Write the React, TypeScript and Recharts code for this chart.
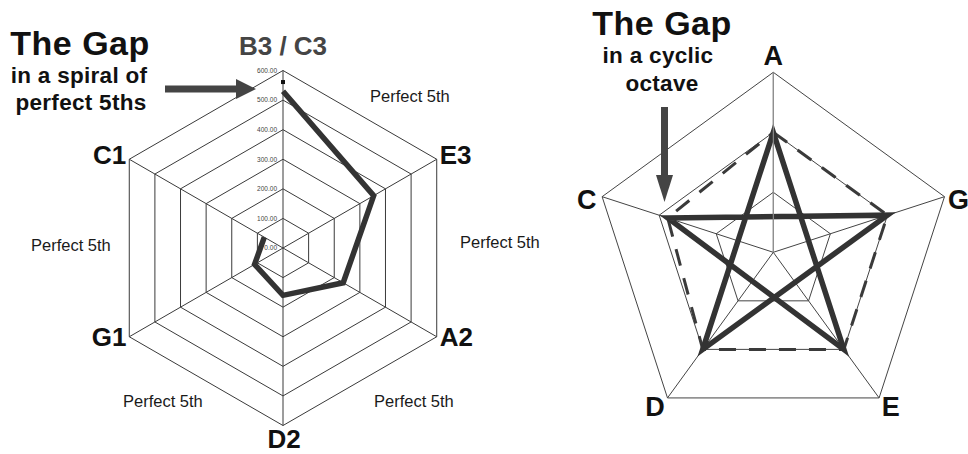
import { PolarAngleAxis, PolarGrid, PolarRadiusAxis, Radar, RadarChart } from "recharts";

// left chart: spiral of perfect fifths (clockwise from the top)
const spiralNotes = ["B3 / C3", "E3", "A2", "D2", "G1", "C1"];
const spiralValues = [530, 354, 235, 160, 111, 73];
const gapMarker = [561, 0, 0, 0, 0, 0];
const spiralTicks = [0, 100, 200, 300, 400, 500, 600];
const fifthLabels = ["Perfect 5th", "Perfect 5th", "Perfect 5th", "Perfect 5th", "Perfect 5th"];

// right chart: cyclic octave (clockwise from the top)
const cycleNotes = ["A", "G", "E", "D", "C"];
const cycleValues = [2, 2, 2, 2, 1.85];
const cycleTicks = [0, 1, 2, 3];

const spiralData = spiralNotes.map((note, i) => ({
  note,
  value: spiralValues[i],
  gap: gapMarker[i],
}));
const cycleData = cycleNotes.map((note, i) => ({ note, value: cycleValues[i] }));

const FONT = "'Liberation Sans', Arial, sans-serif";
const INK = "#333";

// label nudges, [dx, dy] from the default tick point
const spiralNudge: Record<string, [number, number]> = {
  "B3 / C3": [0, -17],
  E3: [-4, 0],
  A2: [-4, -4],
  D2: [1, 5],
  G1: [4, -4],
  C1: [4, 0],
};
const cycleNudge: Record<string, [number, number]> = {
  A: [0, -8],
  G: [-4, 6],
  E: [-2, 3],
  D: [2, 3],
  C: [2, 6],
};
// where the "Perfect 5th" notes sit (start x, baseline)
const fifthSpots: [number, number][] = [
  [370, 102],
  [460, 248],
  [374, 407],
  [123, 407],
  [31, 251],
];

function SpiralTick(props: any) {
  const { x, y, payload, textAnchor } = props;
  const [dx, dy] = spiralNudge[payload.value] || [0, 0];
  const isGap = payload.value === spiralNotes[0];
  return (
    <text
      x={x + dx}
      y={y + dy}
      textAnchor={textAnchor}
      dominantBaseline="central"
      fontFamily={FONT}
      fontSize={26}
      fontWeight="bold"
      fill={isGap ? "#454545" : "#111"}
    >
      {payload.value}
    </text>
  );
}

function CycleTick(props: any) {
  const { x, y, payload, textAnchor } = props;
  const [dx, dy] = cycleNudge[payload.value] || [0, 0];
  return (
    <text
      x={x + dx}
      y={y + dy}
      textAnchor={textAnchor}
      dominantBaseline="central"
      fontFamily={FONT}
      fontSize={27}
      fontWeight="bold"
      fill="#111"
    >
      {payload.value}
    </text>
  );
}

function RadiusTick(props: any) {
  const { x, y, payload } = props;
  return (
    <text x={x - 6} y={y} dy="0.35em" textAnchor="end" fontFamily={FONT} fontSize={6.5} fill="#444">
      {Number(payload.value).toFixed(2)}
    </text>
  );
}

// spiral is an open line: B3 -> E3 -> ... -> C1, never closed back
function OpenLine(props: any) {
  const pts = props.points || [];
  const d = pts.map((p: any, i: number) => `${i ? "L" : "M"}${p.x},${p.y}`).join("");
  return <path d={d} fill="none" stroke={INK} strokeWidth={5.5} strokeLinejoin="miter" />;
}

function GapDot(props: any) {
  const pts = (props.points || []).filter((p: any) => p.value > 0);
  return (
    <g>
      {pts.map((p: any, i: number) => (
        <rect key={i} x={p.x - 2} y={p.y - 2} width={4} height={4} fill="#111" />
      ))}
    </g>
  );
}

// pentagram: walk the fifths C -> G -> D -> A -> E -> C
function Star(props: any) {
  const pts = props.points || [];
  const n = pts.length;
  if (!n) return null;
  const order: any[] = [];
  for (let k = 0, i = n - 1; k < n; k++, i = (i + 2) % n) order.push(pts[i]);
  const d = order.map((p, i) => `${i ? "L" : "M"}${p.x},${p.y}`).join("") + "Z";
  return <path d={d} fill="none" stroke={INK} strokeWidth={5.5} strokeLinejoin="miter" />;
}

export default function App() {
  return (
    <div
      style={{
        position: "absolute",
        left: 0,
        top: 0,
        width: 968,
        height: 454,
        background: "#fff",
        overflow: "hidden",
      }}
    >
      <div style={{ position: "absolute", left: 0, top: 0 }}>
        <RadarChart
          width={560}
          height={454}
          data={spiralData}
          cx={283}
          cy={248}
          outerRadius={177.5}
          margin={{ top: 0, right: 0, bottom: 0, left: 0 }}
        >
          <PolarGrid stroke="#3a3a3a" strokeWidth={1} />
          <PolarAngleAxis dataKey="note" tick={<SpiralTick />} tickLine={false} axisLine={false} />
          <PolarRadiusAxis
            angle={90}
            domain={[spiralTicks[0], spiralTicks[spiralTicks.length - 1]]}
            tickCount={spiralTicks.length}
            tick={<RadiusTick />}
            axisLine={false}
            tickLine={false}
          />
          <Radar dataKey="value" shape={OpenLine} dot={false} isAnimationActive={false} />
          <Radar dataKey="gap" shape={GapDot} dot={false} isAnimationActive={false} />
        </RadarChart>
      </div>

      <div style={{ position: "absolute", left: 560, top: 0 }}>
        <RadarChart
          width={408}
          height={454}
          data={cycleData}
          cx={213.3}
          cy={252.3}
          outerRadius={180}
          margin={{ top: 0, right: 0, bottom: 0, left: 0 }}
        >
          <PolarGrid stroke="#444" strokeWidth={1} />
          <PolarAngleAxis dataKey="note" tick={<CycleTick />} tickLine={false} axisLine={false} />
          <PolarRadiusAxis
            angle={90}
            domain={[cycleTicks[0], cycleTicks[cycleTicks.length - 1]]}
            tickCount={cycleTicks.length}
            tick={false}
            axisLine={{ stroke: "#999" }}
            tickLine={false}
          />
          <Radar
            dataKey="value"
            stroke="#3a3a3a"
            strokeWidth={3}
            strokeDasharray="17 13"
            fill="none"
            fillOpacity={0}
            dot={false}
            isAnimationActive={false}
          />
          <Radar dataKey="value" shape={Star} dot={false} isAnimationActive={false} />
        </RadarChart>
      </div>

      <svg
        width={968}
        height={454}
        style={{ position: "absolute", left: 0, top: 0, pointerEvents: "none" }}
        fontFamily={FONT}
      >
        {fifthLabels.map((t, i) => (
          <text key={i} x={fifthSpots[i][0]} y={fifthSpots[i][1]} fontSize={16.5} fill="#1a1a1a">
            {t}
          </text>
        ))}

        <g fill="#111" fontWeight="bold" textAnchor="middle">
          <text x={80} y={55} fontSize={34} letterSpacing={0.5}>The Gap</text>
          <text x={79} y={83} fontSize={22.5} letterSpacing={0.3}>in a spiral of</text>
          <text x={81} y={110} fontSize={22.5} letterSpacing={0.3}>perfect 5ths</text>

          <text x={662} y={35} fontSize={34} letterSpacing={0.5}>The Gap</text>
          <text x={658} y={63} fontSize={22.5} letterSpacing={0.3}>in a cyclic</text>
          <text x={662} y={91} fontSize={22.5} letterSpacing={0.3}>octave</text>
        </g>

        <g fill="#444">
          <rect x={165} y={85.5} width={72} height={7} />
          <polygon points="236,79 256,89 236,99" />
          <rect x={661} y={107} width={7} height={69} />
          <polygon points="656,175 673,175 664.5,202" />
        </g>
      </svg>
    </div>
  );
}
